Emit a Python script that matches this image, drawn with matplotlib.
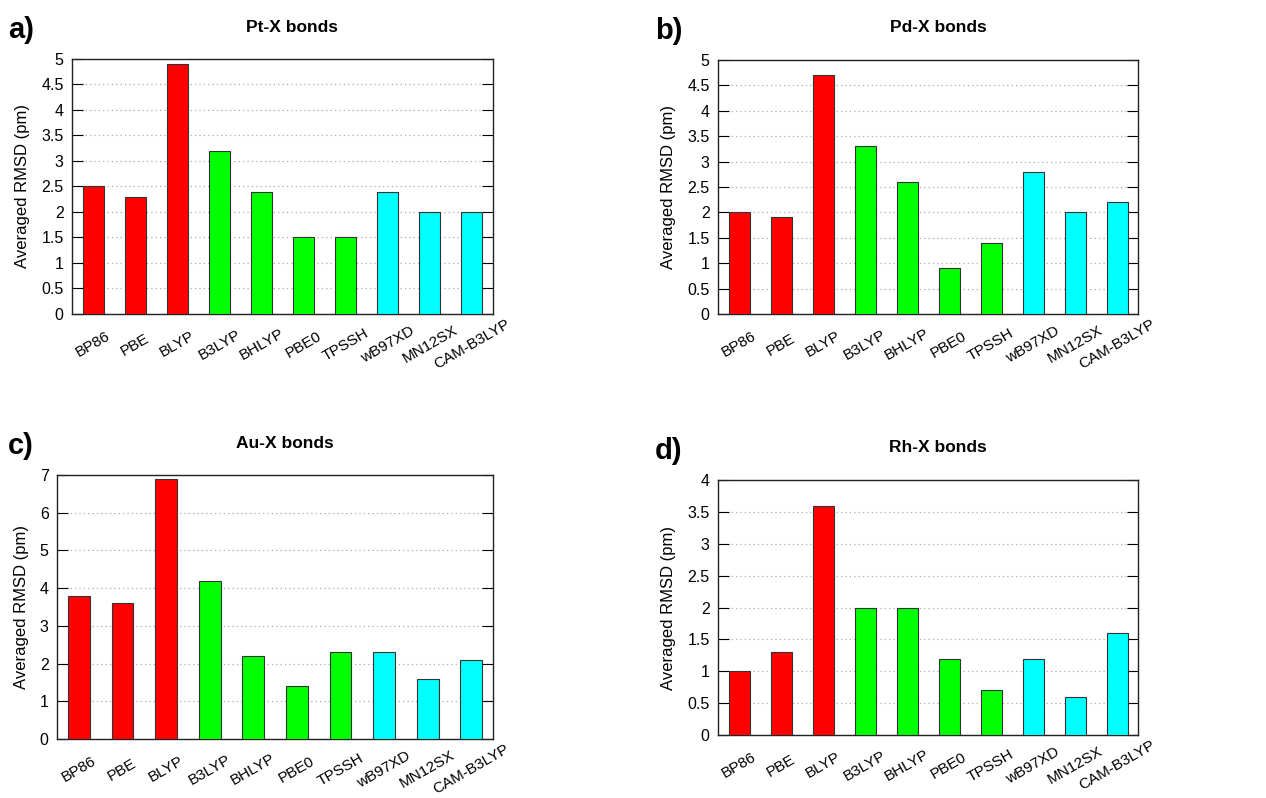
import numpy as np
import matplotlib
matplotlib.use('Agg')
import matplotlib.pyplot as plt

plt.rcParams['font.family'] = ['Liberation Sans', 'DejaVu Sans']

##data
methods = ['BP86', 'PBE', 'BLYP', 'B3LYP', 'BHLYP', 'PBE0', 'TPSSH', 'wB97XD', 'MN12SX', 'CAM-B3LYP']
pt_vals = [2.5, 2.3, 4.9, 3.2, 2.4, 1.5, 1.5, 2.4, 2.0, 2.0]
pd_vals = [2.0, 1.9, 4.7, 3.3, 2.6, 0.9, 1.4, 2.8, 2.0, 2.2]
au_vals = [3.8, 3.6, 6.9, 4.2, 2.2, 1.4, 2.3, 2.3, 1.6, 2.1]
rh_vals = [1.0, 1.3, 3.6, 2.0, 2.0, 1.2, 0.7, 1.2, 0.6, 1.6]
bar_colours = ['#ff0000'] * 3 + ['#00ff00'] * 4 + ['#00ffff'] * 3

W, H = 1266, 798
fig = plt.figure(figsize=(W / 100, H / 100), dpi=100)

# panel: (label, title, values, ymax, ystep, axes box in px [left, top, right, bottom], label x)
panels = [
    ('a)', 'Pt-X bonds', pt_vals, 5, 0.5, (72, 59, 493, 314), 8),
    ('b)', 'Pd-X bonds', pd_vals, 5, 0.5, (718, 60, 1138, 314), 655),
    ('c)', 'Au-X bonds', au_vals, 7, 1, (57, 475, 493, 739), 8),
    ('d)', 'Rh-X bonds', rh_vals, 4, 0.5, (718, 480, 1138, 735), 655),
]

for lab, title, vals, ymax, ystep, box, labx in panels:
    l, t, r, b = box
    ax = fig.add_axes([l / W, 1 - b / H, (r - l) / W, (b - t) / H])
    x = np.arange(len(methods))
    ax.bar(x, vals, width=0.5, color=bar_colours, edgecolor='#333333', linewidth=0.8, zorder=3)
    ax.set_xlim(-0.5, len(methods) - 0.5)
    ax.set_ylim(0, ymax)
    yt = np.arange(0, ymax + ystep / 2, ystep)
    ax.set_yticks(yt)
    ax.set_yticklabels(['%g' % v for v in yt], fontsize=11.5)
    ax.yaxis.grid(True, linestyle=(0, (1, 2.5)), color='#aaaaaa', linewidth=0.9, zorder=0)
    ax.tick_params(axis='y', direction='in', length=8, width=0.8, right=True, left=True, pad=6)
    ax.set_xticks(x)
    ax.tick_params(axis='x', length=0, pad=22)
    ax.set_xticklabels(methods, rotation=30, ha='center', va='center', rotation_mode='anchor', fontsize=11)
    for s in ax.spines.values():
        s.set_linewidth(1.0)
        s.set_color('#222222')
    ax.set_ylabel('Averaged RMSD (pm)', fontsize=12, labelpad=8)

    # panel letter and title
    fig.text(labx / W, 1 - (t - 29) / H, lab, fontsize=21, fontweight='bold', ha='left', va='center')
    fig.text((l + r) / 2 / W + 10 / W, 1 - (t - 32) / H, title, fontsize=12.5, fontweight='bold',
             ha='center', va='center')

fig.savefig('out.png', dpi=100)
